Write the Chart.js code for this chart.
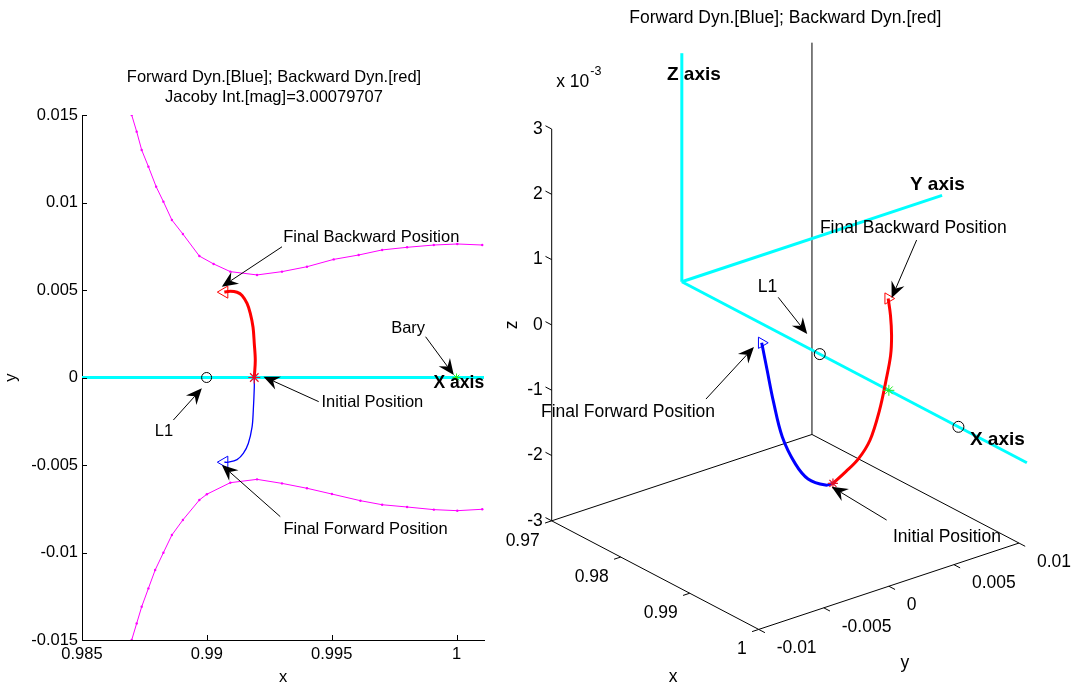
<!DOCTYPE html>
<html>
<head>
<meta charset="utf-8">
<script src="https://cdn.jsdelivr.net/npm/chart.js@4.4.1/dist/chart.umd.min.js"></script>
<style>
  html, body { margin: 0; padding: 0; background: #fff; }
  #wrap { position: relative; width: 1075px; height: 691px; overflow: hidden; background: #fff; }
  canvas { position: absolute; top: 0; }
  #c2d { left: 0; }
  #c3d { left: 500px; }
</style>
</head>
<body>
<div id="wrap">
  <canvas id="c2d" width="500" height="691"></canvas>
  <canvas id="c3d" width="575" height="691"></canvas>
</div>
<script>
// ---------------------------------------------------------------
// Data: CR3BP rotating frame, normalised units
// ---------------------------------------------------------------
const jacobi = 3.00079707;

// forward-integrated trajectory (blue)
const fwdX = [0.99190, 0.99190, 0.99186, 0.99181, 0.99166, 0.99146, 0.99121, 0.99086, 0.99070];
const fwdY = [0, -0.00057, -0.00189, -0.00284, -0.00377, -0.00434, -0.00469, -0.00484, -0.00484];
const fwdZ = [-0.001874, -0.001862, -0.001683, -0.001392, -0.000923, -0.000360, 0.000130, 0.000459, 0.000533];

// backward-integrated trajectory (red)
const bwdX = [0.99190, 0.99194, 0.99190, 0.99185, 0.99174, 0.99161, 0.99141, 0.99121, 0.99094, 0.99070];
const bwdY = [0, 0.00097, 0.00194, 0.00287, 0.00366, 0.00423, 0.00469, 0.00487, 0.00493, 0.00488];
const bwdZ = [-0.001874, -0.001756, -0.001632, -0.001406, -0.001006, -0.000593, -0.000251, 0.000032, 0.000319, 0.000568];

// zero-velocity curves for this Jacobi constant (magenta)
const zvcUpperX = [0.98699, 0.98719, 0.98739, 0.98766, 0.98797, 0.98826, 0.98860, 0.98904, 0.98970, 0.99027, 0.99094,
                   0.99201, 0.99301, 0.99401, 0.99508, 0.99608, 0.99702, 0.99802, 0.99909, 1.00003, 1.00103];
const zvcUpperY = [0.01500, 0.01405, 0.01300, 0.01205, 0.01090, 0.01005, 0.00900, 0.00820, 0.00694, 0.00649, 0.00605,
                   0.00586, 0.00605, 0.00633, 0.00675, 0.00700, 0.00729, 0.00744, 0.00757, 0.00763, 0.00757];
const zvcLowerX = [0.98699, 0.98719, 0.98739, 0.98766, 0.98793, 0.98826, 0.98860, 0.98904, 0.98970, 0.99000, 0.99094,
                   0.99201, 0.99301, 0.99401, 0.99501, 0.99615, 0.99702, 0.99802, 0.99909, 1.00003, 1.00103];
const zvcLowerY = [-0.01500, -0.01405, -0.01310, -0.01205, -0.01100, -0.01001, -0.00900, -0.00814, -0.00700, -0.00667, -0.00601,
                   -0.00582, -0.00605, -0.00633, -0.00666, -0.00704, -0.00727, -0.00740, -0.00755, -0.00761, -0.00753];

// libration points L1, L2 and the barycentre marker (all on the x axis)
const libX = [0.98999, 1.01008];
const baryX = 1.0;

// cyan reference axes drawn from this origin
const guideOrigin = [0.97, 0, 0];
const guideEnd = { x: 1.02, y: 0.02, z: 0.0035 };

// tick values
const xTicks2d = [0.985, 0.99, 0.995, 1];
const yTicks2d = [-0.015, -0.01, -0.005, 0, 0.005, 0.01, 0.015];
const xTicks3d = [0.97, 0.98, 0.99, 1];
const yTicks3d = [-0.01, -0.005, 0, 0.005, 0.01];
const zTicks3d = [-0.003, -0.002, -0.001, 0, 0.001, 0.002, 0.003];

// ---------------------------------------------------------------
// Styling / helpers
// ---------------------------------------------------------------
const FONT = '"Liberation Sans", Arial, Helvetica, sans-serif';
Chart.defaults.font.family = FONT;
Chart.defaults.font.size = 16.5;
Chart.defaults.color = '#000';

const TITLE = 'Forward Dyn.[Blue]; Backward Dyn.[red]';
const RED = '#ff0000', BLUE = '#0000ff', CYAN = '#00ffff', MAG = '#ff00ff', GREEN = '#22ee22';
const NONE = 'rgba(0,0,0,0)';
const SIZE_2D = { text: 16.5, bold: 17.5 };
const SIZE_3D = { text: 17.5, bold: 19 };

const fmt = v => String(parseFloat(Number(v).toFixed(6)));
const pts2 = (xs, ys) => xs.map((x, i) => ({ x, y: ys[i] }));
const lastOf = (xs, ys) => ({ x: xs[xs.length - 1], y: ys[ys.length - 1] });

function lineSet(data, color, width, extra) {
  return Object.assign({ data, showLine: true, borderColor: color, borderWidth: width,
    pointRadius: 0, fill: false, clip: 0 }, extra || {});
}
function markerSet(data, style, radius, color, extra) {
  return Object.assign({ data, showLine: false, pointStyle: style, pointRadius: radius,
    pointBorderColor: color, pointBackgroundColor: NONE, pointBorderWidth: 1 }, extra || {});
}

function text(ctx, str, x, y, align, size, bold) {
  ctx.save();
  ctx.font = (bold ? 'bold ' : '') + size + 'px ' + FONT;
  ctx.textAlign = align || 'left';
  ctx.textBaseline = 'middle';
  ctx.fillStyle = '#000';
  ctx.fillText(str, x, y);
  ctx.restore();
}

// annotation arrow with a swept-back filled head
function arrow(ctx, x1, y1, x2, y2) {
  const dx = x2 - x1, dy = y2 - y1, len = Math.hypot(dx, dy);
  const ux = dx / len, uy = dy / len, px = -uy, py = ux;
  const L = 16, W = 7, N = 10.5;
  ctx.save();
  ctx.strokeStyle = '#000'; ctx.fillStyle = '#000'; ctx.lineWidth = 1;
  ctx.beginPath(); ctx.moveTo(x1, y1); ctx.lineTo(x2 - ux * N, y2 - uy * N); ctx.stroke();
  ctx.beginPath();
  ctx.moveTo(x2, y2);
  ctx.lineTo(x2 - ux * L + px * W, y2 - uy * L + py * W);
  ctx.lineTo(x2 - ux * N, y2 - uy * N);
  ctx.lineTo(x2 - ux * L - px * W, y2 - uy * L - py * W);
  ctx.closePath(); ctx.fill();
  ctx.restore();
}

// ---------------------------------------------------------------
// Left panel: x-y projection
// ---------------------------------------------------------------
const notes2d = [
  { text: 'Final Backward Position', at: [0.99306, 0.00803], align: 'left',  tail: [0.99301, 0.00747], tip: [0.99060, 0.00519] },
  { text: 'Bary',                    at: [0.99806, 0.00281], align: 'center', tail: [0.99876, 0.00233], tip: [0.99989, 0.00014] },
  { text: 'Initial Position',        at: [0.99459, -0.00142], align: 'left', tail: [0.99448, -0.00138], tip: [0.99227, 0.00005] },
  { text: 'L1',                      at: [0.98828, -0.00310], align: 'center', tail: [0.98866, -0.00243], tip: [0.98980, -0.00062] },
  { text: 'Final Forward Position',  at: [0.99307, -0.00867], align: 'left', tail: [0.99294, -0.00795], tip: [0.99060, -0.00500] },
  { text: 'X axis',                  at: [0.99908, -0.00033], align: 'left', bold: true }
];

const frame2d = {
  id: 'frame2d',
  afterDraw(chart) {
    const { ctx, chartArea: a, scales: { x, y } } = chart;
    // MATLAB-style inward tick marks
    ctx.save();
    ctx.strokeStyle = '#000'; ctx.lineWidth = 1; ctx.beginPath();
    xTicks2d.forEach(v => { const p = Math.round(x.getPixelForValue(v)) + 0.5; ctx.moveTo(p, a.bottom); ctx.lineTo(p, a.bottom - 5); });
    yTicks2d.forEach(v => { const p = Math.round(y.getPixelForValue(v)) + 0.5; ctx.moveTo(a.left, p); ctx.lineTo(a.left + 5, p); });
    ctx.stroke();
    ctx.restore();
    // two-line title
    const cx = (a.left + a.right) / 2 - 9;
    text(ctx, TITLE, cx, a.top - 38, 'center', SIZE_2D.text);
    text(ctx, 'Jacoby Int.[mag]=' + jacobi.toFixed(8), cx, a.top - 18, 'center', SIZE_2D.text);
    // annotations
    notes2d.forEach(n => {
      if (n.tail) arrow(ctx, x.getPixelForValue(n.tail[0]), y.getPixelForValue(n.tail[1]),
                             x.getPixelForValue(n.tip[0]), y.getPixelForValue(n.tip[1]));
      text(ctx, n.text, x.getPixelForValue(n.at[0]), y.getPixelForValue(n.at[1]), n.align,
           n.bold ? SIZE_2D.bold : SIZE_2D.text, n.bold);
    });
  }
};

new Chart(document.getElementById('c2d'), {
  type: 'scatter',
  data: {
    datasets: [
      markerSet([{ x: bwdX[0], y: bwdY[0] }], 'star', 6, '#e0102a', { order: 0, pointBorderWidth: 1.2 }),
      markerSet([lastOf(bwdX, bwdY)], 'triangle', 7, RED, { order: 1, pointRotation: -90 }),
      markerSet([lastOf(fwdX, fwdY)], 'triangle', 7, BLUE, { order: 1, pointRotation: -90 }),
      markerSet([{ x: baryX, y: 0 }], 'star', 4, GREEN, { order: 2 }),
      markerSet(libX.map(v => ({ x: v, y: 0 })), 'circle', 5, '#000', { order: 2 }),
      lineSet(pts2(bwdX, bwdY), RED, 3, { order: 3, tension: 0.35 }),
      lineSet(pts2(fwdX, fwdY), BLUE, 1.3, { order: 4, tension: 0.35 }),
      lineSet([{ x: guideOrigin[0], y: 0 }, { x: guideEnd.x, y: 0 }], CYAN, 3, { order: 5 }),
      lineSet(pts2(zvcUpperX, zvcUpperY), MAG, 1, { order: 6, pointRadius: 1.2, pointBackgroundColor: MAG, pointBorderWidth: 0 }),
      lineSet(pts2(zvcLowerX, zvcLowerY), MAG, 1, { order: 6, pointRadius: 1.2, pointBackgroundColor: MAG, pointBorderWidth: 0 })
    ]
  },
  options: {
    responsive: false, animation: false, devicePixelRatio: 1, events: [],
    layout: { autoPadding: false, padding: { top: 115, right: 16, left: 0, bottom: 0 } },
    plugins: { legend: { display: false }, tooltip: { enabled: false } },
    scales: {
      x: {
        type: 'linear', position: 'bottom', min: 0.985, max: 1.0011,
        grid: { display: false, drawTicks: false },
        border: { display: true, color: '#000', width: 1 },
        ticks: { padding: 5, color: '#000', font: { size: SIZE_2D.text }, callback: v => fmt(v) },
        afterBuildTicks: s => { s.ticks = xTicks2d.map(v => ({ value: v })); },
        afterFit: s => { s.height = 51; },
        title: { display: true, text: 'x', color: '#000', font: { size: SIZE_2D.text }, padding: { top: 0, bottom: 4 } }
      },
      y: {
        type: 'linear', position: 'left', min: -0.015, max: 0.015,
        grid: { display: false, drawTicks: false },
        border: { display: true, color: '#000', width: 1 },
        ticks: { padding: 4, color: '#000', font: { size: SIZE_2D.text }, callback: v => fmt(v) },
        afterBuildTicks: s => { s.ticks = yTicks2d.map(v => ({ value: v })); },
        afterFit: s => { s.width = 82; },
        title: { display: true, text: 'y', color: '#000', font: { size: SIZE_2D.text }, padding: { top: 2, bottom: 0 } }
      }
    }
  },
  plugins: [frame2d]
});

// ---------------------------------------------------------------
// Right panel: 3-D view (orthographic, azimuth / elevation)
// ---------------------------------------------------------------
const LIM3 = { x: [0.97, 1.0], y: [-0.01, 0.01], z: [-0.003, 0.003] };
const VIEW = { az: 51.5, el: 19.5 };
const VIEW_U = [-0.858, 0.871];   // view-plane extent shown by the panel
const VIEW_V = [-0.854, 0.8085];

function project(x, y, z) {
  const n = (v, [lo, hi]) => (v - (lo + hi) / 2) / (hi - lo);
  const X = n(x, LIM3.x), Y = n(y, LIM3.y), Z = n(z, LIM3.z);
  const a = VIEW.az * Math.PI / 180, e = VIEW.el * Math.PI / 180;
  return {
    x: Math.cos(a) * X + Math.sin(a) * Y,
    y: -Math.sin(e) * Math.sin(a) * X + Math.sin(e) * Math.cos(a) * Y + Math.cos(e) * Z
  };
}
const pts3 = (xs, ys, zs) => xs.map((x, i) => project(x, ys[i], zs[i]));

// annotation positions in view-plane coordinates
const notes3d = [
  { text: 'Final Backward Position', at: [0.1040, 0.2599], align: 'left', tail: [0.3948, 0.2310], tip: [0.3196, 0.0914] },
  { text: 'L1',                      at: [-0.0538, 0.1172], align: 'center', tail: [-0.0213, 0.0931], tip: [0.0658, 0.0048] },
  { text: 'Final Forward Position',  at: [-0.7348, -0.1829], align: 'left', tail: [-0.2387, -0.1516], tip: [-0.0944, -0.0265] },
  { text: 'Initial Position',        at: [0.3235, -0.4836], align: 'left', tail: [0.3046, -0.4427], tip: [0.1392, -0.3626] },
  { text: 'X axis', at: [0.5550, -0.2502], align: 'left', bold: true },
  { text: 'Y axis', at: [0.3745, 0.3633], align: 'left', bold: true },
  { text: 'Z axis', at: [-0.3560, 0.6280], align: 'left', bold: true }
];

function px3(chart, x, y, z) {
  const q = project(x, y, z);
  return { x: chart.scales.x.getPixelForValue(q.x), y: chart.scales.y.getPixelForValue(q.y) };
}
function pxUV(chart, uv) {
  return { x: chart.scales.x.getPixelForValue(uv[0]), y: chart.scales.y.getPixelForValue(uv[1]) };
}
function unit(a, b) { const dx = b.x - a.x, dy = b.y - a.y, l = Math.hypot(dx, dy); return { x: dx / l, y: dy / l }; }

const frame3d = {
  id: 'frame3d',
  beforeDatasetsDraw(chart) {
    const ctx = chart.ctx;
    const fs = SIZE_3D.text;
    const [x0, x1] = LIM3.x, [y0, y1] = LIM3.y, [z0, z1] = LIM3.z;
    const A = px3(chart, x0, y0, z0), B = px3(chart, x1, y0, z0), C = px3(chart, x1, y1, z0), D = px3(chart, x0, y1, z0);
    const At = px3(chart, x0, y0, z1), Dt = px3(chart, x0, y1, z1);
    const seg = (p, q) => { ctx.moveTo(p.x, p.y); ctx.lineTo(q.x, q.y); };
    ctx.save();
    ctx.strokeStyle = '#000'; ctx.lineWidth = 1; ctx.beginPath();
    seg(A, B); seg(B, C); seg(C, D); seg(D, A); seg(A, At); seg(D, Dt);
    // tick marks point away from the box
    const T = 7, dX = unit(D, A), dY = unit(A, B), dZ = unit(B, A);
    xTicks3d.forEach(v => { const p = px3(chart, v, y0, z0); seg(p, { x: p.x + dX.x * T, y: p.y + dX.y * T }); });
    yTicks3d.forEach(v => { const p = px3(chart, x1, v, z0); seg(p, { x: p.x + dY.x * T, y: p.y + dY.y * T }); });
    zTicks3d.forEach(v => { const p = px3(chart, x0, y0, v); seg(p, { x: p.x + dZ.x * T, y: p.y + dZ.y * T }); });
    ctx.stroke();
    ctx.restore();

    // tick labels
    xTicks3d.forEach(v => { const p = px3(chart, v, y0, z0); text(ctx, fmt(v), p.x - 12, p.y + 20, 'right', fs); });
    yTicks3d.forEach(v => { const p = px3(chart, x1, v, z0); text(ctx, fmt(v), p.x + 18, p.y + 19, 'left', fs); });
    zTicks3d.forEach(v => { const p = px3(chart, x0, y0, v); text(ctx, fmt(v * 1000), p.x - 9, p.y, 'right', fs); });

    // exponent of the z axis
    ctx.save();
    ctx.font = fs + 'px ' + FONT; ctx.textBaseline = 'middle'; ctx.textAlign = 'left'; ctx.fillStyle = '#000';
    const ex = At.x + 4.5, ey = At.y - 47;
    ctx.fillText('x 10', ex, ey);
    const w = ctx.measureText('x 10').width;
    ctx.font = '12.5px ' + FONT;
    ctx.fillText('-3', ex + w + 1, ey - 10);
    ctx.restore();

    // axis titles
    text(ctx, 'x', (A.x + B.x) / 2 + 18, (A.y + B.y) / 2 + 102, 'center', fs);
    text(ctx, 'y', (B.x + C.x) / 2 + 16, (B.y + C.y) / 2 + 77, 'center', fs);
    ctx.save();
    ctx.translate(A.x - 40, (A.y + At.y) / 2);
    ctx.rotate(-Math.PI / 2);
    text(ctx, 'z', 0, 0, 'center', fs);
    ctx.restore();

    // panel title
    const c = pxUV(chart, [0, 0]);
    text(ctx, TITLE, c.x, chart.chartArea.top + 18, 'center', fs);
  },
  afterDatasetsDraw(chart) {
    const ctx = chart.ctx;
    notes3d.forEach(n => {
      if (n.tail) {
        const t = pxUV(chart, n.tail), h = pxUV(chart, n.tip);
        arrow(ctx, t.x, t.y, h.x, h.y);
      }
      const p = pxUV(chart, n.at);
      text(ctx, n.text, p.x, p.y, n.align, n.bold ? SIZE_3D.bold : SIZE_3D.text, n.bold);
    });
  }
};

new Chart(document.getElementById('c3d'), {
  type: 'scatter',
  data: {
    datasets: [
      markerSet([project(bwdX[0], bwdY[0], bwdZ[0])], 'star', 5, '#e0102a', { order: 0, pointBorderWidth: 1.2 }),
      markerSet([project(bwdX[bwdX.length - 1], bwdY[bwdY.length - 1], bwdZ[bwdZ.length - 1])], 'triangle', 6.5, RED, { order: 1, pointRotation: 90 }),
      markerSet([project(fwdX[fwdX.length - 1], fwdY[fwdY.length - 1], fwdZ[fwdZ.length - 1])], 'triangle', 6.5, BLUE, { order: 1, pointRotation: 90 }),
      markerSet([project(baryX, 0, 0)], 'star', 5.5, GREEN, { order: 2 }),
      markerSet(libX.map(v => project(v, 0, 0)), 'circle', 5.5, '#000', { order: 2 }),
      lineSet(pts3(bwdX, bwdY, bwdZ), RED, 3, { order: 3, tension: 0.35 }),
      lineSet(pts3(fwdX, fwdY, fwdZ), BLUE, 3, { order: 4, tension: 0.35 }),
      lineSet([project(...guideOrigin), project(guideEnd.x, guideOrigin[1], guideOrigin[2])], CYAN, 3, { order: 5 }),
      lineSet([project(...guideOrigin), project(guideOrigin[0], guideEnd.y, guideOrigin[2])], CYAN, 3, { order: 5 }),
      lineSet([project(...guideOrigin), project(guideOrigin[0], guideOrigin[1], guideEnd.z)], CYAN, 3, { order: 5 })
    ]
  },
  options: {
    responsive: false, animation: false, devicePixelRatio: 1, events: [],
    layout: { autoPadding: false, padding: 0 },
    plugins: { legend: { display: false }, tooltip: { enabled: false } },
    scales: {
      x: { type: 'linear', min: VIEW_U[0], max: VIEW_U[1], display: false },
      y: { type: 'linear', min: VIEW_V[0], max: VIEW_V[1], display: false }
    }
  },
  plugins: [frame3d]
});
</script>
</body>
</html>
